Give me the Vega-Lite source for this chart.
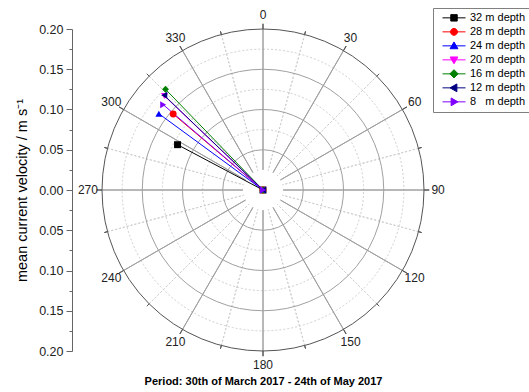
{
  "$schema": "https://vega.github.io/schema/vega-lite/v6.json",
  "width": 322,
  "height": 322,
  "autosize": "none",
  "padding": {"left": 102, "top": 29, "right": 105, "bottom": 41},
  "background": "white",
  "config": {"font": "Liberation Sans", "view": {"stroke": null}},
  "datasets": {
    "vec": [
      {"depth": "32 m depth", "u": 0, "v": 0},
      {"depth": "32 m depth", "u": -0.1062, "v": 0.0563},
      {"depth": "28 m depth", "u": 0, "v": 0},
      {"depth": "28 m depth", "u": -0.1116, "v": 0.0944},
      {"depth": "24 m depth", "u": 0, "v": 0},
      {"depth": "24 m depth", "u": -0.1294, "v": 0.0948},
      {"depth": "20 m depth", "u": 0, "v": 0},
      {"depth": "20 m depth", "u": -0.1224, "v": 0.1168},
      {"depth": "16 m depth", "u": 0, "v": 0},
      {"depth": "16 m depth", "u": -0.1211, "v": 0.1251},
      {"depth": "12 m depth", "u": 0, "v": 0},
      {"depth": "12 m depth", "u": -0.1227, "v": 0.1176},
      {"depth": "8\u2007 m depth", "u": 0, "v": 0},
      {"depth": "8\u2007 m depth", "u": -0.124, "v": 0.106}
    ],
    "one": [{"k": 1}],
    "majorAngles": [
      {"a": 0}, {"a": 30}, {"a": 60}, {"a": 90}, {"a": 120}, {"a": 150},
      {"a": 180}, {"a": 210}, {"a": 240}, {"a": 270}, {"a": 300}, {"a": 330}
    ],
    "minorAngles": [
      {"a": 15}, {"a": 45}, {"a": 75}, {"a": 105}, {"a": 135}, {"a": 165},
      {"a": 195}, {"a": 225}, {"a": 255}, {"a": 285}, {"a": 315}, {"a": 345}
    ],
    "minorTicks": [{"v": 0}]
  },
  "layer": [
    {
      "data": {"name": "one"},
      "mark": {"type": "arc", "theta": 0, "theta2": 6.2832, "fill": null, "stroke": "#cfcfcf", "strokeWidth": 1, "strokeDash": [2, 2]},
      "encoding": {"radius": {"datum": 0.075, "type": "quantitative", "scale": {"type": "linear", "domain": [0, 0.2], "range": [0, 161], "zero": true}}}
    },
    {
      "data": {"name": "one"},
      "mark": {"type": "arc", "theta": 0, "theta2": 6.2832, "fill": null, "stroke": "#cfcfcf", "strokeWidth": 1, "strokeDash": [2, 2]},
      "encoding": {"radius": {"datum": 0.125, "type": "quantitative"}}
    },
    {
      "data": {"name": "one"},
      "mark": {"type": "arc", "theta": 0, "theta2": 6.2832, "fill": null, "stroke": "#cfcfcf", "strokeWidth": 1, "strokeDash": [2, 2]},
      "encoding": {"radius": {"datum": 0.175, "type": "quantitative"}}
    },
    {
      "data": {"name": "minorAngles"},
      "mark": {"type": "arc", "fill": null, "stroke": "#cfcfcf", "strokeWidth": 1, "strokeDash": [2, 2]},
      "encoding": {
        "theta": {"field": "a", "type": "quantitative", "stack": null, "scale": {"domain": [0, 360], "range": [0, 6.283185307179586]}},
        "theta2": {"field": "a"},
        "radius": {"datum": 0.2},
        "radius2": {"datum": 0.025}
      }
    },
    {
      "data": {"name": "one"},
      "mark": {"type": "arc", "theta": 0, "theta2": 6.2832, "fill": null, "stroke": "#a0a0a0", "strokeWidth": 1},
      "encoding": {"radius": {"datum": 0.05, "type": "quantitative"}}
    },
    {
      "data": {"name": "one"},
      "mark": {"type": "arc", "theta": 0, "theta2": 6.2832, "fill": null, "stroke": "#a0a0a0", "strokeWidth": 1},
      "encoding": {"radius": {"datum": 0.1, "type": "quantitative"}}
    },
    {
      "data": {"name": "one"},
      "mark": {"type": "arc", "theta": 0, "theta2": 6.2832, "fill": null, "stroke": "#a0a0a0", "strokeWidth": 1},
      "encoding": {"radius": {"datum": 0.15, "type": "quantitative"}}
    },
    {
      "data": {"name": "majorAngles"},
      "mark": {"type": "arc", "fill": null, "stroke": "#a0a0a0", "strokeWidth": 1},
      "encoding": {
        "theta": {"field": "a", "type": "quantitative", "stack": null, "scale": {"domain": [0, 360], "range": [0, 6.283185307179586]}},
        "theta2": {"field": "a"},
        "radius": {"datum": 0.2},
        "radius2": {"datum": 0.025}
      }
    },
    {
      "data": {"name": "majorAngles"},
      "mark": {"type": "arc", "fill": null, "stroke": "#555555", "strokeWidth": 1},
      "encoding": {
        "theta": {"field": "a", "type": "quantitative", "stack": null, "scale": {"domain": [0, 360], "range": [0, 6.283185307179586]}},
        "theta2": {"field": "a"},
        "radius": {"datum": 0.2065},
        "radius2": {"datum": 0.2}
      }
    },
    {
      "data": {"name": "minorAngles"},
      "mark": {"type": "arc", "fill": null, "stroke": "#555555", "strokeWidth": 1},
      "encoding": {
        "theta": {"field": "a", "type": "quantitative", "stack": null, "scale": {"domain": [0, 360], "range": [0, 6.283185307179586]}},
        "theta2": {"field": "a"},
        "radius": {"datum": 0.204},
        "radius2": {"datum": 0.2}
      }
    },
    {
      "data": {"name": "one"},
      "mark": {"type": "arc", "theta": 0, "theta2": 6.2832, "fill": null, "stroke": "#555555", "strokeWidth": 1},
      "encoding": {"radius": {"datum": 0.2, "type": "quantitative"}}
    },
    {
      "data": {"name": "majorAngles"},
      "mark": {"type": "text", "fontSize": 12, "color": "#222222", "align": "center", "baseline": "middle"},
      "encoding": {
        "theta": {"field": "a", "type": "quantitative", "stack": null, "scale": {"domain": [0, 360], "range": [0, 6.283185307179586]}},
        "radius": {"datum": 0.2175},
        "text": {"field": "a", "type": "quantitative", "format": "d"}
      }
    },
    {
      "data": {"name": "vec"},
      "encoding": {
        "x": {"field": "u", "type": "quantitative", "scale": {"domain": [-0.2, 0.2], "nice": false, "zero": false},
          "axis": {"title": "Period: 30th of March 2017 - 24th of May 2017", "labels": false, "ticks": false, "domain": false, "grid": false,
            "titleFontWeight": "bold", "titleFontSize": 11, "titleColor": "black", "titlePadding": 24}},
        "y": {"field": "v", "type": "quantitative", "scale": {"domain": [-0.2, 0.2], "nice": false, "zero": false},
          "axis": {"orient": "left", "offset": 30, "values": [-0.2, -0.15, -0.1, -0.05, 0, 0.05, 0.1, 0.15, 0.2],
            "labelExpr": "format(abs(datum.value), '.2f')", "grid": false, "tickSize": 6, "tickColor": "#666666", "domainColor": "#666666",
            "labelFontSize": 12.5, "labelColor": "#222222", "labelPadding": 3,
            "title": "mean current velocity / m s\u207b\u00b9", "titleFontSize": 14.5, "titleFontWeight": "normal", "titleColor": "black", "titlePadding": 9}},
        "color": {"field": "depth", "type": "nominal", "legend": null,
          "scale": {"domain": ["32 m depth", "28 m depth", "24 m depth", "20 m depth", "16 m depth", "12 m depth", "8\u2007 m depth"],
            "range": ["#000000", "#ff0000", "#0000ff", "#ff00ff", "#008000", "#000080", "#8000ff"]}}
      },
      "layer": [
        {"mark": {"type": "line", "strokeWidth": 1}},
        {
          "mark": {"type": "point", "filled": true, "opacity": 1, "size": 48},
          "encoding": {
            "shape": {"field": "depth", "type": "nominal", "legend": null,
              "scale": {"domain": ["32 m depth", "28 m depth", "24 m depth", "20 m depth", "16 m depth", "12 m depth", "8\u2007 m depth"],
                "range": ["square", "circle", "triangle-up", "triangle-down", "diamond", "triangle-left", "triangle-right"]}}
          }
        }
      ]
    },
    {
      "data": {"name": "minorTicks"},
      "mark": {"type": "point", "opacity": 0},
      "encoding": {
        "y": {"field": "v", "type": "quantitative", "scale": {"domain": [-0.2, 0.2], "nice": false, "zero": false},
          "axis": {"orient": "left", "offset": 30, "values": [-0.175, -0.125, -0.075, -0.025, 0.025, 0.075, 0.125, 0.175],
            "labels": false, "domain": false, "grid": false, "tickSize": 3, "tickColor": "#666666", "title": null}}
      }
    },
    {
      "data": {"name": "vec"},
      "transform": [{"filter": "false"}],
      "mark": {"type": "point", "filled": true, "strokeWidth": 1, "opacity": 1},
      "encoding": {
        "x": {"field": "u", "type": "quantitative"},
        "y": {"field": "v", "type": "quantitative", "axis": null},
        "shape": {"field": "depth", "type": "nominal",
          "scale": {"domain": ["32 m depth", "28 m depth", "24 m depth", "20 m depth", "16 m depth", "12 m depth", "8\u2007 m depth"],
            "range": [
              "M-1,0H1M-0.28,-0.28H0.28V0.28H-0.28Z",
              "M-1,0H1M0.3,0A0.3,0.3 0 1,1 -0.3,0A0.3,0.3 0 1,1 0.3,0Z",
              "M-1,0H1M0,-0.34L0.34,0.25L-0.34,0.25Z",
              "M-1,0H1M0,0.34L0.34,-0.25L-0.34,-0.25Z",
              "M-1,0H1M0,-0.36L0.36,0L0,0.36L-0.36,0Z",
              "M-1,0H1M-0.34,0L0.25,-0.34L0.25,0.34Z",
              "M-1,0H1M0.34,0L-0.25,-0.34L-0.25,0.34Z"
            ]},
          "legend": {"orient": "none", "legendX": 331, "legendY": -21, "title": null, "padding": 3, "strokeColor": "#808080", "fillColor": "white",
            "symbolSize": 529, "clipHeight": 13.7, "rowPadding": 0, "labelFontSize": 11, "labelColor": "black", "labelOffset": 4,
            "symbolStrokeWidth": 1, "symbolOffset": 6, "symbolOpacity": 1}},
        "fill": {"field": "depth", "type": "nominal",
          "scale": {"domain": ["32 m depth", "28 m depth", "24 m depth", "20 m depth", "16 m depth", "12 m depth", "8\u2007 m depth"],
            "range": ["#000000", "#ff0000", "#0000ff", "#ff00ff", "#008000", "#000080", "#8000ff"]},
          "legend": {"orient": "none", "legendX": 331, "legendY": -21, "title": null, "padding": 3, "strokeColor": "#808080", "fillColor": "white",
            "symbolSize": 529, "clipHeight": 13.7, "rowPadding": 0, "labelFontSize": 11, "labelColor": "black", "labelOffset": 4,
            "symbolStrokeWidth": 1, "symbolOffset": 6, "symbolOpacity": 1}},
        "stroke": {"field": "depth", "type": "nominal",
          "scale": {"domain": ["32 m depth", "28 m depth", "24 m depth", "20 m depth", "16 m depth", "12 m depth", "8\u2007 m depth"],
            "range": ["#000000", "#ff0000", "#0000ff", "#ff00ff", "#008000", "#000080", "#8000ff"]},
          "legend": {"orient": "none", "legendX": 331, "legendY": -21, "title": null, "padding": 3, "strokeColor": "#808080", "fillColor": "white",
            "symbolSize": 529, "clipHeight": 13.7, "rowPadding": 0, "labelFontSize": 11, "labelColor": "black", "labelOffset": 4,
            "symbolStrokeWidth": 1, "symbolOffset": 6, "symbolOpacity": 1}}
      }
    }
  ],
  "resolve": {
    "scale": {"y": "independent", "shape": "independent", "fill": "independent", "stroke": "independent"},
    "axis": {"y": "independent"},
    "legend": {"shape": "independent", "fill": "independent", "stroke": "independent"}
  }
}
